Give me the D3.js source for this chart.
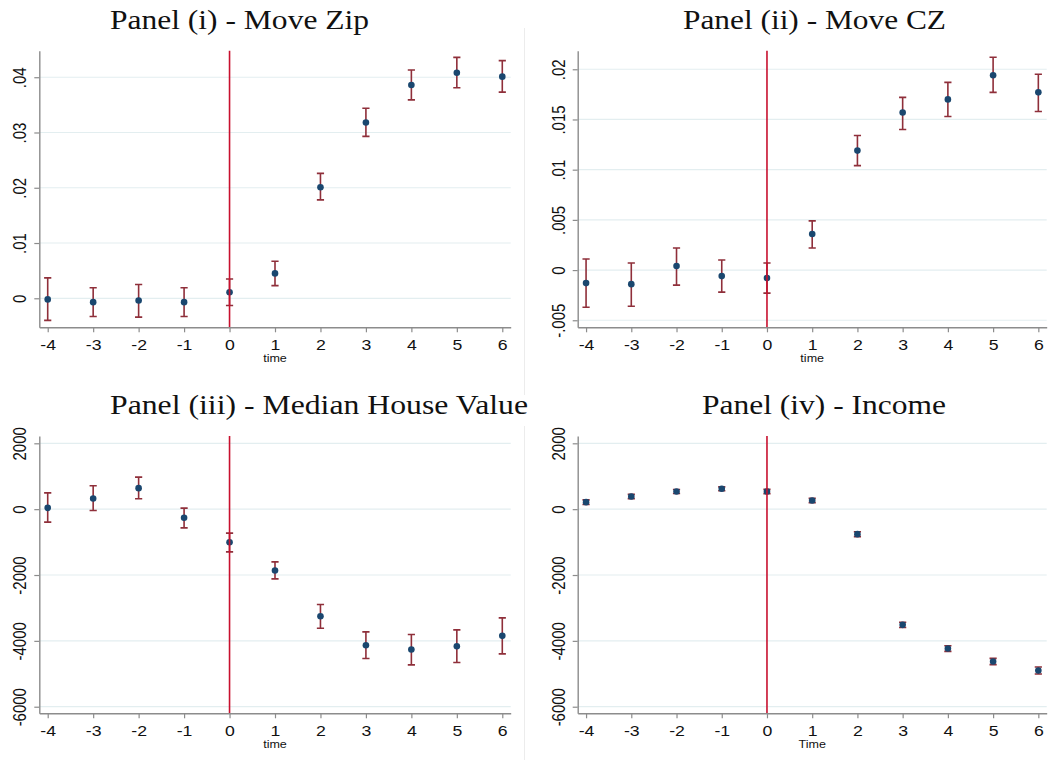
<!DOCTYPE html>
<html>
<head>
<meta charset="utf-8">
<script src="https://cdn.jsdelivr.net/npm/d3@7"></script>
<style>
  html, body { margin: 0; padding: 0; background: #ffffff; }
  svg { display: block; }
</style>
</head>
<body>
<div id="chart"></div>
<script>
// ---------------- DATA ----------------
const times = [-4, -3, -2, -1, 0, 1, 2, 3, 4, 5, 6];
const xTicks = [-4, -3, -2, -1, 0, 1, 2, 3, 4, 5, 6];
const xTickLabels = ["-4", "-3", "-2", "-1", "0", "1", "2", "3", "4", "5", "6"];

const titles = ["Panel (i) - Move Zip", "Panel (ii) - Move CZ", "Panel (iii) - Median House Value", "Panel (iv) - Income"];
const xLabels = ["time", "time", "time", "Time"];

const moveZipCoef = [-0.0002, -0.0007, -0.0004, -0.0007, 0.0011, 0.0045, 0.0201, 0.0318, 0.0386, 0.0408, 0.0401];
const moveZipLo   = [-0.0040, -0.0033, -0.0034, -0.0033, -0.0013, 0.0023, 0.0178, 0.0293, 0.0359, 0.0381, 0.0373];
const moveZipHi   = [0.0037, 0.0019, 0.0025, 0.0019, 0.0035, 0.0067, 0.0226, 0.0344, 0.0413, 0.0436, 0.0430];

const moveCZCoef = [-0.0013, -0.0014, 0.0004, -0.0006, -0.0008, 0.0036, 0.0119, 0.0157, 0.0170, 0.0194, 0.0177];
const moveCZLo   = [-0.0037, -0.0036, -0.0015, -0.0022, -0.0023, 0.0022, 0.0104, 0.0140, 0.0153, 0.0177, 0.0158];
const moveCZHi   = [0.0011, 0.0007, 0.0022, 0.0010, 0.0007, 0.0049, 0.0134, 0.0172, 0.0187, 0.0212, 0.0195];

const houseCoef = [40, 324, 638, -263, -1003, -1863, -3251, -4132, -4263, -4162, -3848];
const houseLo   = [-395, -40, 314, -567, -1296, -2116, -3615, -4537, -4729, -4658, -4395];
const houseHi   = [496, 709, 972, 30, -729, -1600, -2896, -3727, -3808, -3666, -3301];

const incomeCoef = [213, 385, 537, 618, 537, 263, -759, -3514, -4233, -4628, -4901];
const incomeLo   = [143, 320, 477, 558, 472, 198, -834, -3594, -4318, -4723, -5006];
const incomeHi   = [283, 450, 597, 678, 602, 328, -684, -3434, -4148, -4533, -4796];

const zipTicks = [0, 0.01, 0.02, 0.03, 0.04];
const zipTickLabels = ["0", ".01", ".02", ".03", ".04"];
const czTicks = [-0.005, 0, 0.005, 0.01, 0.015, 0.02];
const czTickLabels = ["-.005", "0", ".005", ".01", ".015", ".02"];
const moneyTicks = [-6000, -4000, -2000, 0, 2000];
const moneyTickLabels = ["-6000", "-4000", "-2000", "0", "2000"];

// ---------------- LAYOUT ----------------
const W = 1051, H = 760;
const panels = [
  { title: titles[0], tx: 110, tw: 259, tb: 29, left: 39.3, right: 510.7, top: 50.7, bottom: 327.3,
    yDom: [-0.00525, 0.0448], yTicks: zipTicks, yLabels: zipTickLabels, xlab: xLabels[0],
    coef: moveZipCoef, lo: moveZipLo, hi: moveZipHi },
  { title: titles[1], tx: 683, tw: 263, tb: 29, left: 577.7, right: 1046.7, top: 50.7, bottom: 327.3,
    yDom: [-0.0057, 0.02185], yTicks: czTicks, yLabels: czTickLabels, xlab: xLabels[1],
    coef: moveCZCoef, lo: moveCZLo, hi: moveCZHi },
  { title: titles[2], tx: 110, tw: 418, tb: 414, left: 39.3, right: 510.7, top: 436, bottom: 713.3,
    yDom: [-6200, 2222], yTicks: moneyTicks, yLabels: moneyTickLabels, xlab: xLabels[2],
    coef: houseCoef, lo: houseLo, hi: houseHi },
  { title: titles[3], tx: 702, tw: 244, tb: 414, left: 577.7, right: 1046.7, top: 436, bottom: 713.3,
    yDom: [-6200, 2222], yTicks: moneyTicks, yLabels: moneyTickLabels, xlab: xLabels[3],
    coef: incomeCoef, lo: incomeLo, hi: incomeHi }
];

const C = {
  marker: "#1a476f",
  ci: "#8f2f3a",
  vline: "#c8102e",
  axis: "#8c8c8c",
  grid: "#e3eef0",
  sep: "#ececec"
};

const svg = d3.select("#chart").append("svg")
  .attr("width", W).attr("height", H)
  .attr("viewBox", `0 0 ${W} ${H}`);

svg.append("rect").attr("width", W).attr("height", H).attr("fill", "#fff");

// faint separators between left and right images
svg.append("line").attr("x1", 524.5).attr("x2", 524.5).attr("y1", 28).attr("y2", 395)
  .attr("stroke", C.sep).attr("stroke-width", 1);
svg.append("line").attr("x1", 524.5).attr("x2", 524.5).attr("y1", 426).attr("y2", 760)
  .attr("stroke", C.sep).attr("stroke-width", 1);

panels.forEach(p => {
  const x = d3.scaleLinear().domain([-4.185, 6.185]).range([p.left, p.right]);
  const y = d3.scaleLinear().domain(p.yDom).range([p.bottom, p.top]);
  const g = svg.append("g");

  // title
  g.append("text")
    .attr("x", p.tx).attr("y", p.tb)
    .attr("font-family", "'Liberation Serif', 'DejaVu Serif', serif")
    .attr("font-size", 28)
    .attr("fill", "#111")
    .attr("textLength", p.tw)
    .attr("lengthAdjust", "spacingAndGlyphs")
    .text(p.title);

  // gridlines
  g.append("g").selectAll("line").data(p.yTicks).join("line")
    .attr("x1", p.left).attr("x2", p.right)
    .attr("y1", d => y(d)).attr("y2", d => y(d))
    .attr("stroke", C.grid).attr("stroke-width", 1.2);

  const data = times.map((t, i) => ({ t, c: p.coef[i], lo: p.lo[i], hi: p.hi[i] }));

  // error bars
  const eb = g.append("g").attr("stroke", C.ci).attr("stroke-width", 1.6).attr("fill", "none");
  eb.selectAll("path").data(data).join("path")
    .attr("d", d => {
      const cx = x(d.t), y1 = y(d.hi), y2 = y(d.lo), w = 3.6;
      return `M${cx - w},${y1}H${cx + w}M${cx},${y1}V${y2}M${cx - w},${y2}H${cx + w}`;
    });

  // markers
  g.append("g").selectAll("circle").data(data).join("circle")
    .attr("cx", d => x(d.t)).attr("cy", d => y(d.c)).attr("r", 3.3)
    .attr("fill", C.marker);

  // vertical line at 0
  g.append("line")
    .attr("x1", x(0)).attr("x2", x(0)).attr("y1", p.top).attr("y2", p.bottom)
    .attr("stroke", C.vline).attr("stroke-width", 1.6);

  // x axis
  const xa = g.append("g").attr("transform", `translate(0,${p.bottom})`)
    .call(d3.axisBottom(x).tickValues(xTicks).tickSize(5).tickSizeOuter(0)
      .tickFormat((d, i) => xTickLabels[i]));
  xa.select(".domain").attr("stroke", C.axis).attr("stroke-width", 1.4);
  xa.selectAll(".tick line").attr("stroke", C.axis).attr("stroke-width", 1.2);
  xa.selectAll(".tick text")
    .attr("y", null).attr("dy", null)
    .attr("transform", "translate(0,22.5) scale(1.14,1)")
    .attr("font-family", "'Liberation Sans', Arial, sans-serif")
    .attr("font-size", 15.5).attr("fill", "#111");

  // y axis
  const ya = g.append("g").attr("transform", `translate(${p.left},0)`)
    .call(d3.axisLeft(y).tickValues(p.yTicks).tickSize(5).tickSizeOuter(0)
      .tickFormat((d, i) => p.yLabels[i]));
  ya.select(".domain").attr("stroke", C.axis).attr("stroke-width", 1.4);
  ya.selectAll(".tick line").attr("stroke", C.axis).attr("stroke-width", 1.2);
  ya.selectAll(".tick text")
    .attr("x", null).attr("dy", null)
    .attr("text-anchor", "middle")
    .attr("transform", "translate(-13,0) scale(1.2,1) rotate(-90)")
    .attr("font-family", "'Liberation Sans', Arial, sans-serif")
    .attr("font-size", 15).attr("fill", "#111");

  // x label
  g.append("text")
    .attr("transform", `translate(${(p.left + p.right) / 2},${p.bottom + 35}) scale(1.14,1)`)
    .attr("text-anchor", "middle")
    .attr("font-family", "'Liberation Sans', Arial, sans-serif")
    .attr("font-size", 11).attr("fill", "#111")
    .text(p.xlab);
});
</script>
</body>
</html>
